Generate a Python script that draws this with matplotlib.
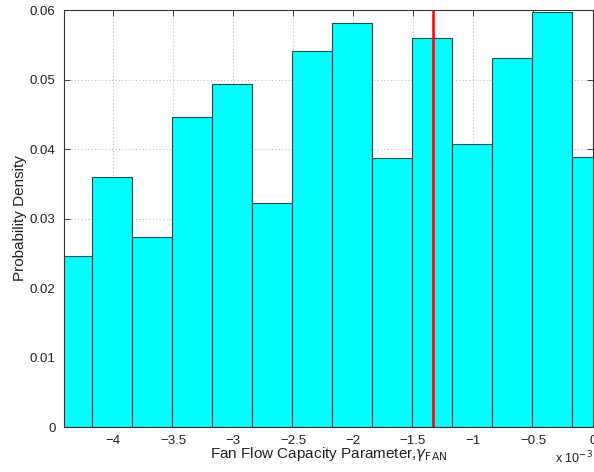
import numpy as np
import matplotlib.pyplot as plt

plt.rcParams['font.family'] = ['Liberation Sans', 'DejaVu Sans']

# histogram bins (units of 1e-3) and probability density per bin
bin_width = 0.3338
bin_centers = np.array([-4.344, -4.010, -3.676, -3.342, -3.009, -2.675, -2.341,
                        -2.007, -1.673, -1.339, -1.006, -0.672, -0.338, -0.005])
density = np.array([0.0246, 0.0360, 0.0274, 0.0446, 0.0493, 0.0322, 0.0541,
                    0.0582, 0.0387, 0.0560, 0.0407, 0.0531, 0.0597, 0.0388])
gamma_nominal = -1.331

xticks = [-4, -3.5, -3, -2.5, -2, -1.5, -1, -0.5, 0]
yticks = [0, 0.01, 0.02, 0.03, 0.04, 0.05, 0.06]

fig = plt.figure(figsize=(5.94, 4.72), dpi=100)
ax = fig.add_axes([0.1077, 0.0953, 0.8906, 0.8835])

ax.bar(bin_centers, density, width=bin_width, color='#00ffff',
       edgecolor='#1a4d4d', linewidth=0.8, zorder=2)
ax.plot([gamma_nominal, gamma_nominal], [0, 0.06], color='red', lw=1.8, zorder=3)

ax.set_xlim(-4.408, 0)
ax.set_ylim(0, 0.06)
ax.set_xticks(xticks)
ax.set_xticklabels(['\u22124', '\u22123.5', '\u22123', '\u22122.5', '\u22122',
                    '\u22121.5', '\u22121', '\u22120.5', '0'])
ax.set_yticks(yticks)
ax.set_yticklabels(['0', '0.01', '0.02', '0.03', '0.04', '0.05', '0.06'])
ax.tick_params(direction='in', length=4, width=0.6, labelsize=9.5,
               top=True, right=True, pad=6, colors='#222222')
ax.grid(True, linestyle=(0, (1, 2.5)), color='#b4b4b4', linewidth=0.7, zorder=0)
ax.set_axisbelow(True)
for s in ax.spines.values():
    s.set_linewidth(0.8)
    s.set_color('#333333')
    s.set_zorder(4)

ax.set_xlabel('Fan Flow Capacity Parameter,$\\gamma_{\\mathrm{FAN}}$',
              fontsize=11, labelpad=-2, color='#222222')
ax.set_ylabel('Probability Density', fontsize=11, labelpad=2, color='#222222')
fig.text(0.998, 0.018, 'x 10$^{-3}$', fontsize=9, color='#222222', ha='right')

fig.savefig('out.png', dpi=100)
